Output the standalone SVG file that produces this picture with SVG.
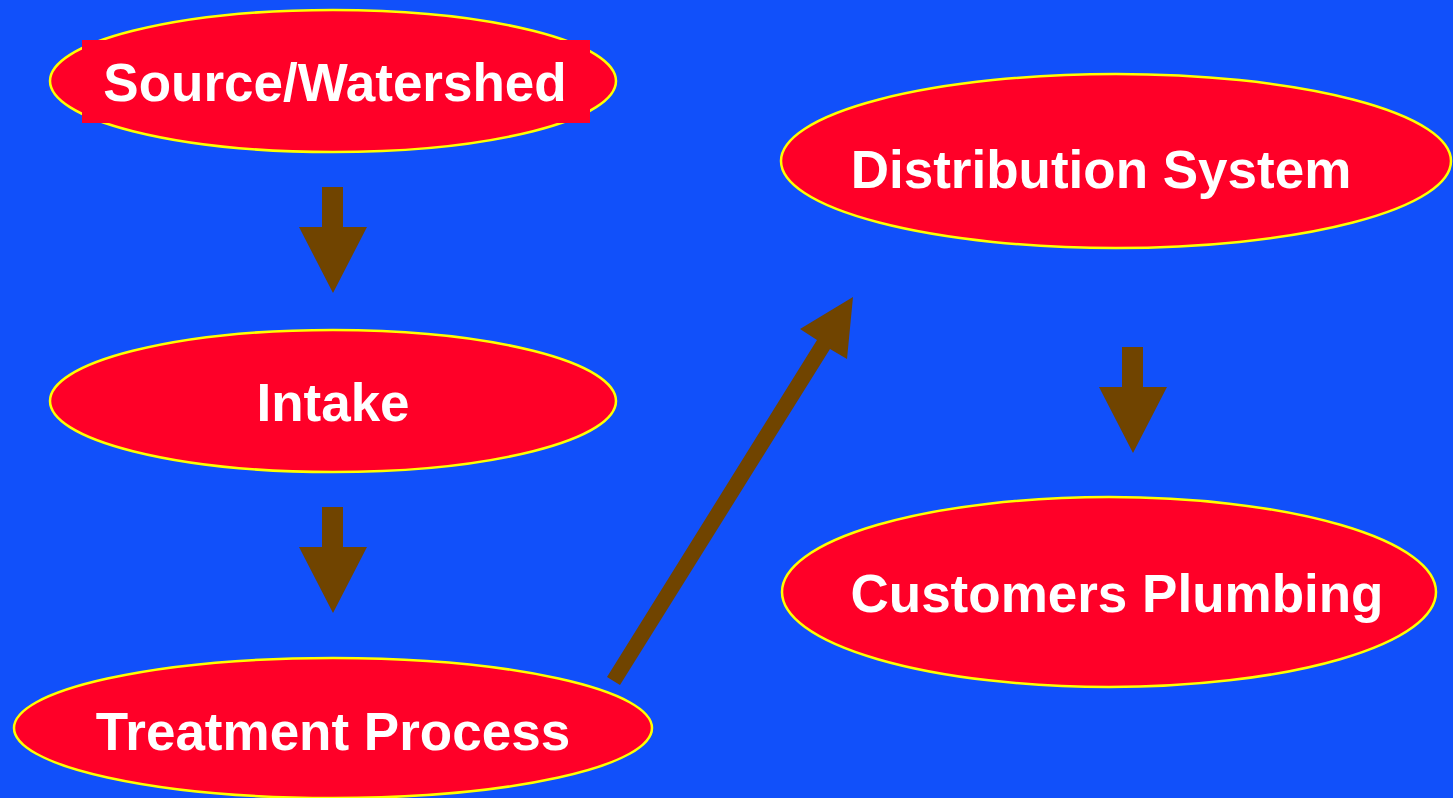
<svg xmlns="http://www.w3.org/2000/svg" width="1453" height="798" viewBox="0 0 1453 798">
<style>
.node ellipse{fill:#FF0028;stroke:#FFFF00;stroke-width:2.5}
.node rect{fill:#FF0028}
.node text{font-family:"Liberation Sans",Arial,sans-serif;font-weight:bold;font-size:53px;fill:#FFFFFF;text-anchor:middle}
.arrow{fill:#704400}
</style>
<rect x="0" y="0" width="1453" height="798" fill="#1150FA"/>
<g id="source" class="node">
<ellipse cx="333" cy="81" rx="283" ry="71"/>
<rect x="82" y="40" width="508" height="83"/>
<text x="335" y="101">Source/Watershed</text>
</g>
<g id="intake" class="node">
<ellipse cx="333" cy="401" rx="283" ry="71"/>
<text x="333" y="421">Intake</text>
</g>
<g id="treatment" class="node">
<ellipse cx="333" cy="728" rx="319" ry="70"/>
<text x="333" y="750">Treatment Process</text>
</g>
<g id="distribution" class="node">
<ellipse cx="1116" cy="161" rx="335" ry="87"/>
<text x="1101" y="188">Distribution System</text>
</g>
<g id="customers" class="node">
<ellipse cx="1109" cy="592" rx="327" ry="95"/>
<text x="1117" y="612">Customers Plumbing</text>
</g>
<g id="connectors">
<polygon class="arrow" points="322,187 343,187 343,227 367,227 333,293 299,227 322,227"/>
<polygon class="arrow" points="322,507 343,507 343,547 367,547 333,613 299,547 322,547"/>
<polygon class="arrow" points="1122,347 1143,347 1143,387 1167,387 1133,453 1099,387 1122,387"/>
<polygon class="arrow" points="607,677 817,340 800,329 853,297 847,359 830,349 620,685"/>
</g>
</svg>
